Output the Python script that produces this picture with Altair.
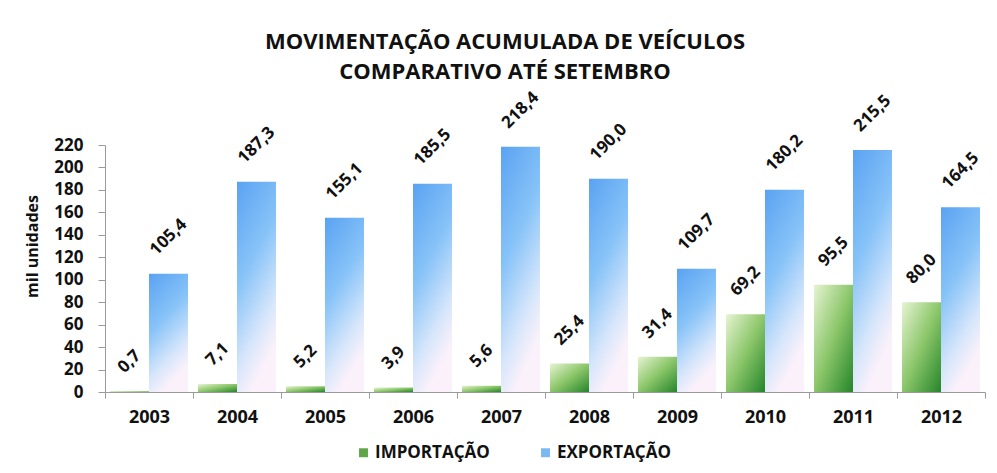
import altair as alt
import pandas as pd

anos = ["2003", "2004", "2005", "2006", "2007", "2008", "2009", "2010", "2011", "2012"]
importacao = [0.7, 7.1, 5.2, 3.9, 5.6, 25.4, 31.4, 69.2, 95.5, 80.0]
exportacao = [105.4, 187.3, 155.1, 185.5, 218.4, 190.0, 109.7, 180.2, 215.5, 164.5]
series = ["IMPORTAÇÃO", "EXPORTAÇÃO"]
y_ticks = list(range(0, 221, 20))

FONT = "Open Sans"
W, H = 880, 247
PX_PER_UNIT = H / 220.0

rows = []
for i, a in enumerate(anos):
    rows.append({"ano": a, "serie": series[0], "valor": importacao[i]})
    rows.append({"ano": a, "serie": series[1], "valor": exportacao[i]})
df = pd.DataFrame(rows)
df["rotulo"] = df["valor"].map(lambda v: f"{v:.1f}".replace(".", ","))
# rotated label sits just above its bar: offset grows with label length
df["label_y"] = df["valor"] + (17 + 0.354 * ((df["rotulo"].str.len() - 1) * 9.6 + 16.5)) / PX_PER_UNIT
df["zero"] = 0.0

x_enc = alt.X(
    "ano:N", sort=anos, title=None,
    scale=alt.Scale(paddingInner=0, paddingOuter=0),
    axis=alt.Axis(labelAngle=0, tickBand="extent", labelFont=FONT, labelFontSize=18,
                  labelFontWeight="bold", labelColor="#111111", domainColor="#9a9a9a",
                  tickColor="#9a9a9a", tickSize=6, labelPadding=10),
)
xoff_enc = alt.XOffset("serie:N", sort=series,
                       scale=alt.Scale(paddingOuter=0.128, paddingInner=0))
y_scale = alt.Scale(domain=[0, 220], nice=False)
y_axis = alt.Axis(values=y_ticks, title="mil unidades", grid=False, labelFont=FONT,
                  labelFontSize=17, labelFontWeight="bold", labelColor="#111111",
                  domainColor="#9a9a9a", tickColor="#9a9a9a", tickSize=7, labelPadding=15,
                  titleFont=FONT, titleFontSize=16, titleFontWeight="bold",
                  titleColor="#111111", titleAngle=270, titleX=-73, titleY=101,
                  titleAlign="center", titleBaseline="middle")

base = alt.Chart(df).encode(x=x_enc, xOffset=xoff_enc)

imp_grad = {"gradient": "linear", "x1": 0, "y1": 0, "x2": 1, "y2": 1,
            "stops": [{"offset": 0, "color": "#e6f4d2"},
                      {"offset": 0.5, "color": "#8cc66a"},
                      {"offset": 1, "color": "#25852a"}]}
exp_grad = {"gradient": "linear", "x1": 0, "y1": 0, "x2": 0.35, "y2": 1,
            "stops": [{"offset": 0, "color": "#5aa2f2"},
                      {"offset": 0.45, "color": "#87c3f8"},
                      {"offset": 0.8, "color": "#d6e6fb"},
                      {"offset": 1, "color": "#fbf1fb"}]}

legend_layer = base.mark_bar().encode(
    y=alt.Y("zero:Q", scale=y_scale, axis=y_axis),
    color=alt.Color("serie:N", sort=series,
                    scale=alt.Scale(domain=series, range=["#5fa64a", "#7ab8f2"]),
                    legend=alt.Legend(title=None, orient="none", legendX=250, legendY=299,
                                      direction="horizontal", labelFont=FONT,
                                      labelFontSize=17, labelFontWeight="bold",
                                      labelColor="#111111", symbolType="square",
                                      symbolSize=80, symbolStrokeWidth=0,
                                      columnPadding=47, labelOffset=3)),
)

bars_imp = base.transform_filter(alt.datum.serie == series[0]).mark_bar(fill=imp_grad).encode(
    y=alt.Y("valor:Q", scale=y_scale, axis=y_axis))
bars_exp = base.transform_filter(alt.datum.serie == series[1]).mark_bar(fill=exp_grad).encode(
    y=alt.Y("valor:Q", scale=y_scale, axis=y_axis))

labels = base.mark_text(angle=315, align="center", baseline="middle", font=FONT,
                        fontSize=17, fontWeight="bold", color="#111111").encode(
    y=alt.Y("label_y:Q", scale=y_scale, axis=y_axis),
    text="rotulo:N",
)

chart = alt.layer(legend_layer, bars_imp, bars_exp, labels).properties(
    width=W, height=H,
    autosize=alt.AutoSizeParams(type="none"),
    padding={"left": 97, "top": 137, "right": 4, "bottom": 70},
    title=alt.TitleParams(text=["MOVIMENTAÇÃO ACUMULADA DE VEÍCULOS", "COMPARATIVO ATÉ SETEMBRO"],
                          font=FONT, fontSize=22, fontWeight="bold", color="#111111",
                          lineHeight=30, anchor="middle", dx=-40, offset=5),
).configure(background="white").configure_view(stroke=None)

chart.save("out.html", embed_options={"renderer": "svg", "actions": False})
